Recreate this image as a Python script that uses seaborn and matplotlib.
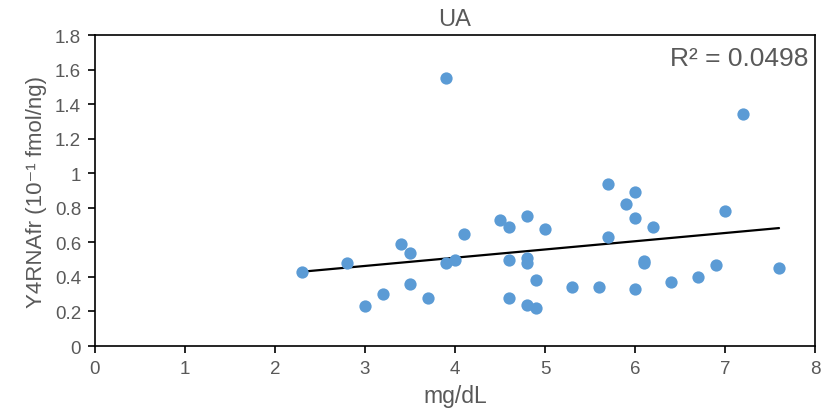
import numpy as np
import pandas as pd
import matplotlib
matplotlib.use('Agg')
import matplotlib.pyplot as plt
import seaborn as sns

ua = [2.3, 2.8, 3.0, 3.2, 3.4, 3.5, 3.5, 3.7, 3.9, 3.9, 4.0, 4.1, 4.5, 4.6, 4.6,
      4.6, 4.8, 4.8, 4.8, 4.8, 4.9, 4.9, 5.0, 5.3, 5.6, 5.7, 5.7, 5.9, 6.0, 6.0,
      6.0, 6.1, 6.1, 6.2, 6.4, 6.7, 6.9, 7.0, 7.2, 7.6]
y4 = [0.43, 0.48, 0.23, 0.30, 0.59, 0.54, 0.36, 0.28, 1.55, 0.48, 0.50, 0.65, 0.73, 0.69, 0.50,
      0.28, 0.75, 0.51, 0.48, 0.24, 0.38, 0.22, 0.68, 0.34, 0.34, 0.94, 0.63, 0.82, 0.89, 0.74,
      0.33, 0.49, 0.48, 0.69, 0.37, 0.40, 0.47, 0.78, 1.34, 0.45]
r2_label = 'R² = 0.0498'

df = pd.DataFrame({'ua': ua, 'y4': y4})

sns.set_style('white')
plt.rcParams['font.family'] = ['Liberation Sans', 'DejaVu Sans']
grey = '#595959'

fig = plt.figure(figsize=(8.23, 4.14), dpi=100)
ax = fig.add_axes([0.1154, 0.1618, 0.8749, 0.7512])

sns.regplot(data=df, x='ua', y='y4', scatter=False, ci=None, truncate=True,
            color='black', line_kws={'linewidth': 1.6}, ax=ax)
sns.scatterplot(data=df, x='ua', y='y4', color='#5B9BD5', s=78,
                linewidth=0, ax=ax, zorder=3)

ax.set_xlim(0, 8)
ax.set_ylim(0, 1.8)
ax.set_xticks(range(0, 9))
ax.set_yticks(np.arange(0, 1.81, 0.2))
ax.set_yticklabels(['0', '0.2', '0.4', '0.6', '0.8', '1', '1.2', '1.4', '1.6', '1.8'])

for sp in ax.spines.values():
    sp.set_color('black')
    sp.set_linewidth(1.2)
ax.tick_params(direction='out', length=5, width=1.2, color='black',
               labelcolor=grey, labelsize=13.5, bottom=True, left=True, pad=5)

ax.set_xlabel('mg/dL', color=grey, fontsize=16.5, labelpad=5)
ax.set_ylabel('Y4RNAfr (10⁻¹ fmol/ng)', color=grey, fontsize=16, labelpad=6)
ax.set_title('UA', color=grey, fontsize=17, pad=7)

ax.text(0.991, 0.965, r2_label, transform=ax.transAxes, ha='right', va='top',
        color=grey, fontsize=19)

fig.savefig('out.png', dpi=100)
